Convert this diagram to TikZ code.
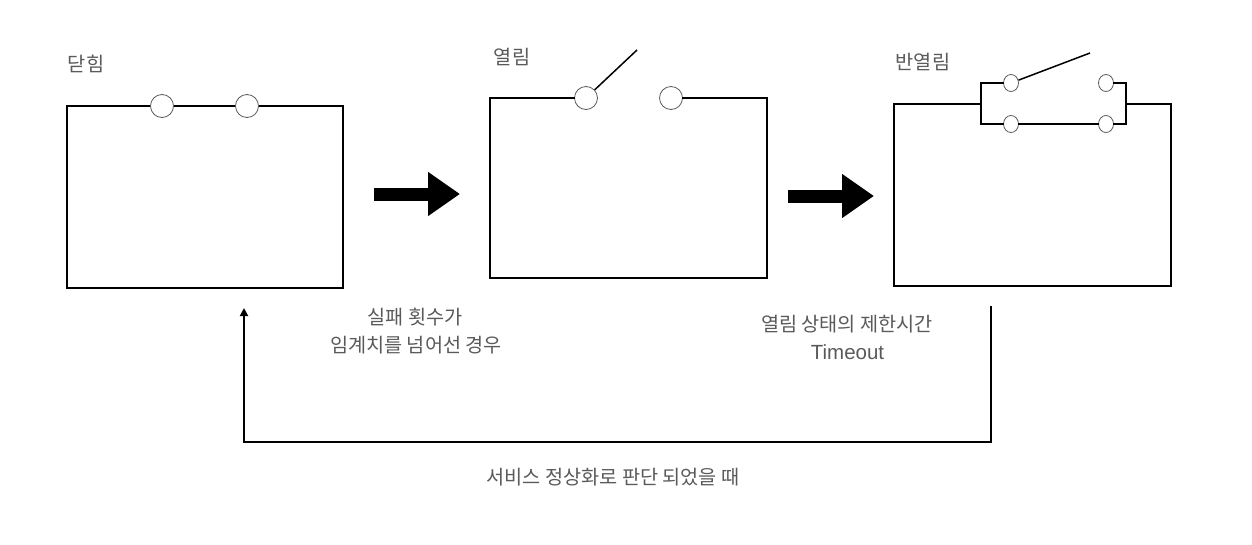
\documentclass[tikz,border=0pt]{standalone}
\usepackage{fontspec}
\setmainfont{Noto Sans CJK KR}
\newfontfamily\latinfont{Liberation Sans}
\usetikzlibrary{arrows.meta,shapes.geometric}
\definecolor{txt}{HTML}{5A5A5A}
\tikzset{
  wire/.style={draw=black,line width=1.7pt,line cap=rect},
  lever/.style={draw=black,line width=1.5pt},
  term/.style={circle,draw=txt,fill=white,line width=0.8pt,minimum size=23pt,inner sep=0pt},
  smallterm/.style={ellipse,draw=txt,fill=white,line width=0.8pt,minimum width=15pt,minimum height=17pt,inner sep=0pt},
  label/.style={text=txt,font=\fontsize{19.7}{28}\selectfont,align=center,inner sep=0pt},
  bigarrow/.style={draw=black,line width=13pt,-{Triangle[length=32pt,width=42pt]}},
  flowline/.style={draw=black,line width=1.8pt,line cap=rect},
  flowarrow/.style={draw=black,line width=1.8pt,-{Triangle[length=8pt,width=8pt]}}
}
\begin{document}
\begin{tikzpicture}[x=1pt,y=-1pt]
\useasboundingbox (0,0) rectangle (1252,544);
\fill[white] (0,0) rectangle (1252,544);

% closed
\coordinate (a1) at (67,106); \coordinate (a2) at (67,288);
\coordinate (a3) at (343,288); \coordinate (a4) at (343,106);
\draw[wire] (a1) -- (a2) -- (a3) -- (a4) -- (a1);
\node[term] (ca) at (162,106) {};
\node[term] (cb) at (247,106) {};
\node[label] (tclosed) at (86,64) {닫힘};

% open
\coordinate (b1) at (490,98); \coordinate (b2) at (490,278);
\coordinate (b3) at (767,278); \coordinate (b4) at (767,98);
\node[term] (oa) at (586,98) {};
\node[term] (ob) at (671,98) {};
\draw[wire] (oa) -- (b1) -- (b2) -- (b3) -- (b4) -- (ob);
\coordinate (otip) at (637,50);
\draw[lever] (oa) -- (otip);
\node[label] (topen) at (512,57) {열림};

% half open
\coordinate (c1) at (894,104); \coordinate (c2) at (894,286);
\coordinate (c3) at (1171,286); \coordinate (c4) at (1171,104);
\coordinate (jl) at (981,104); \coordinate (jr) at (1126,104);
\coordinate (jlt) at (981,83); \coordinate (jlb) at (981,124);
\coordinate (jrt) at (1126,83); \coordinate (jrb) at (1126,124);
\node[smallterm] (ha) at (1011,83) {};
\node[smallterm] (hb) at (1106,83) {};
\node[smallterm] (hc) at (1011,124) {};
\node[smallterm] (hd) at (1106,124) {};
\draw[wire] (jl) -- (c1) -- (c2) -- (c3) -- (c4) -- (jr);
\draw[wire] (ha) -- (jlt) -- (jlb) -- (hc) -- (hd) -- (jrb) -- (jrt) -- (hb);
\coordinate (htip) at (1090,53);
\draw[lever] (ha) -- (htip);
\node[label] (thalf) at (923,62) {반열림};

% block arrows
\coordinate (p1) at (374,194); \coordinate (p2) at (460,194);
\coordinate (q1) at (788,196); \coordinate (q2) at (874,196);
\draw[bigarrow] (p1) -- (p2);
\draw[bigarrow] (q1) -- (q2);

% return path
\coordinate (r1) at (991,307); \coordinate (r2) at (991,442);
\coordinate (r3) at (244,442); \coordinate (r4) at (244,308);
\draw[flowline] (r1) -- (r2) -- (r3);
\draw[flowarrow] (r3) -- (r4);

% labels
\node[label] (t1a) at (415,317) {실패 횟수가};
\node[label] (t1b) at (416,345) {임계치를 넘어선 경우};
\node[label] (t2a) at (847,324) {열림 상태의 제한시간};
\node[label,font=\fontsize{20.5}{28}\selectfont] (t2b) at (847.5,352) {\latinfont Timeout};
\node[label] (t3) at (613,477) {서비스 정상화로 판단 되었을 때};
\end{tikzpicture}
\end{document}
